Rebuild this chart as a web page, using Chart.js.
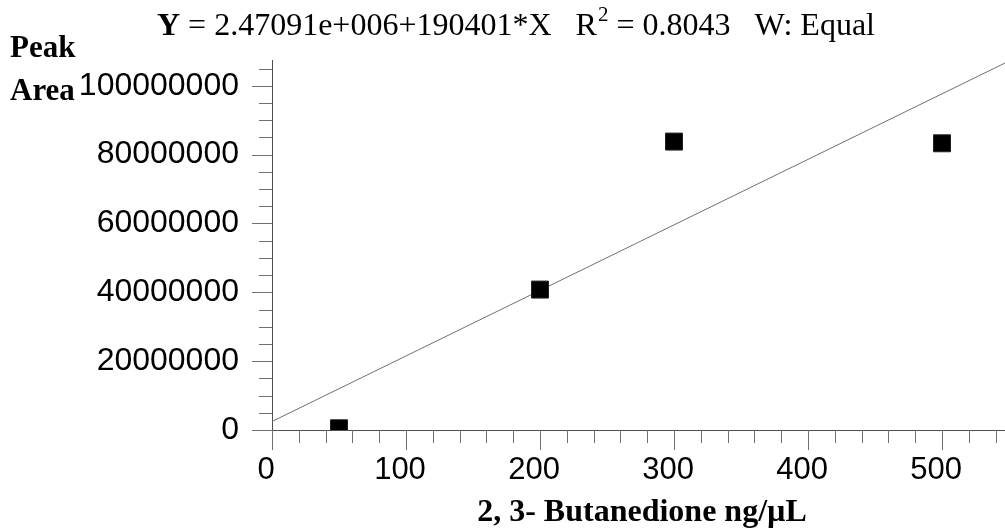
<!DOCTYPE html>
<html>
<head>
<meta charset="utf-8">
<script src="https://cdn.jsdelivr.net/npm/chart.js@4/dist/chart.umd.min.js"></script>
<style>
  html, body { margin: 0; padding: 0; background: #fff; }
  #wrap { width: 1005px; height: 531px; position: relative; }
</style>
</head>
<body>
<div id="wrap"><canvas id="myChart"></canvas></div>
<script>
// calibration points
var concX = [50, 200, 300, 500];
var peakArea = [500000, 40800000, 83800000, 83300000];

// fitted line, ends read from the equation in the title
var fitX = [0, 547];
var fitY = [2470910, 106620000];

var xTicks = [0, 100, 200, 300, 400, 500];
var yTicks = [0, 20000000, 40000000, 60000000, 80000000, 100000000];
var xMinorStep = 20;
var yMinorStep = 5000000;

var serif = '"Liberation Serif", "Times New Roman", serif';
var sans = '"Liberation Sans", Arial, sans-serif';

// ticks (major + minor) and the title texts
var decor = {
  id: 'decor',
  afterDraw: function (chart) {
    var ctx = chart.ctx;
    var xs = chart.scales.x, ys = chart.scales.y;
    var area = chart.chartArea;
    ctx.save();
    ctx.strokeStyle = '#707070';
    ctx.lineWidth = 1;
    ctx.beginPath();
    for (var v = 0; v <= xs.max; v += xMinorStep) {
      var px = Math.round(xs.getPixelForValue(v)) + 0.5;
      var len = (v % 100 == 0) ? 20 : 13;
      ctx.moveTo(px, area.bottom);
      ctx.lineTo(px, area.bottom + len);
    }
    for (var w = 0; w <= ys.max; w += yMinorStep) {
      var py = Math.round(ys.getPixelForValue(w)) + 0.5;
      var len2 = (w % 20000000 == 0) ? 20 : 13;
      ctx.moveTo(area.left, py);
      ctx.lineTo(area.left - len2, py);
    }
    ctx.stroke();

    // title
    ctx.fillStyle = '#000';
    ctx.textBaseline = 'alphabetic';
    ctx.textAlign = 'left';
    var x = 157, y = 35;
    ctx.font = 'bold 32px ' + serif;
    ctx.fillText('Y', x, y);
    x += ctx.measureText('Y').width;
    ctx.font = '32px ' + serif;
    var t1 = ' = 2.47091e+006+190401*X   R';
    ctx.fillText(t1, x, y);
    x += ctx.measureText(t1).width;
    ctx.font = '21px ' + serif;
    ctx.fillText('2', x + 1, y - 14);
    x += ctx.measureText('2').width + 1;
    ctx.font = '32px ' + serif;
    ctx.fillText(' = 0.8043   W: Equal', x, y);

    // y axis title
    ctx.font = 'bold 31px ' + serif;
    ctx.fillText('Peak', 10, 57);
    ctx.fillText('Area', 10, 100);

    // x axis title
    ctx.font = 'bold 32px ' + serif;
    ctx.textAlign = 'center';
    ctx.fillText('2, 3- Butanedione ng/\u00b5L', 642, 521);
    ctx.restore();
  }
};

var ctx = document.getElementById('myChart');

new Chart(ctx, {
  type: 'scatter',
  data: {
    datasets: [
      {
        type: 'line',
        data: fitX.map(function (v, i) { return { x: v, y: fitY[i] }; }),
        borderColor: '#707070',
        borderWidth: 1,
        pointRadius: 0,
        fill: false,
        order: 2
      },
      {
        data: concX.map(function (v, i) { return { x: v, y: peakArea[i] }; }),
        pointStyle: 'rect',
        pointRadius: 12,
        backgroundColor: '#000',
        borderColor: '#222',
        borderWidth: 1,
        order: 1
      }
    ]
  },
  options: {
    responsive: true,
    maintainAspectRatio: false,
    animation: false,
    layout: { autoPadding: false, padding: { top: 60, left: 0, right: 0, bottom: 0 } },
    plugins: {
      legend: { display: false },
      tooltip: { enabled: false }
    },
    scales: {
      x: {
        type: 'linear',
        min: 0,
        max: 547,
        afterBuildTicks: function (scale) {
          scale.ticks = xTicks.map(function (v) { return { value: v }; });
        },
        afterFit: function (scale) {
          scale.height = 101;
          scale.paddingLeft = 0;
          scale.paddingRight = 0;
        },
        grid: { display: false, drawTicks: true, tickLength: 20 },
        border: { display: true, color: '#505050', width: 1 },
        ticks: {
          padding: 2,
          labelOffset: -6,
          maxRotation: 0,
          color: '#000',
          font: { family: sans, size: 31 },
          callback: function (v) { return String(v); }
        }
      },
      y: {
        type: 'linear',
        min: 0,
        max: 107500000,
        afterBuildTicks: function (scale) {
          scale.ticks = yTicks.map(function (v) { return { value: v }; });
        },
        afterFit: function (scale) {
          scale.width = 272;
          scale.paddingTop = 0;
          scale.paddingBottom = 0;
        },
        grid: { display: false, drawTicks: true, tickLength: 20 },
        border: { display: true, color: '#505050', width: 1 },
        ticks: {
          padding: 13,
          color: '#000',
          font: { family: sans, size: 32 },
          callback: function (v) { return String(v); }
        }
      }
    }
  },
  plugins: [decor]
});
</script>
</body>
</html>
